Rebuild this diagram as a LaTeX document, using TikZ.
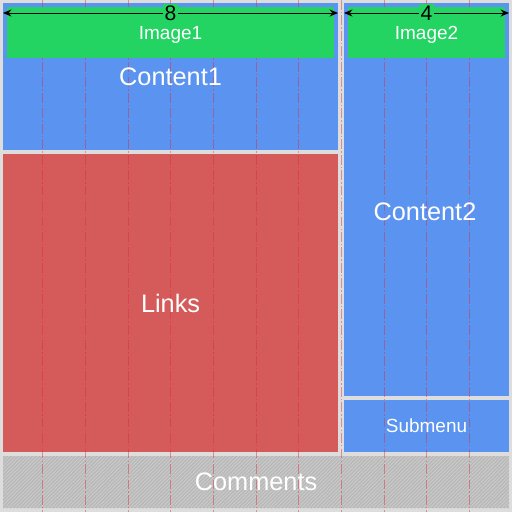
\documentclass[tikz,border=0pt]{standalone}
\usepackage{fontspec}
\setmainfont{Liberation Sans}
\usepackage{tikz}
\usetikzlibrary{positioning, arrows.meta, patterns.meta}
\usepackage{xcolor}

\definecolor{bggray}{HTML}{DDDDDD}
\definecolor{panelblue}{HTML}{5A94F0}
\definecolor{panelgreen}{HTML}{24D463}
\definecolor{panelred}{HTML}{D55B5B}
\definecolor{hatchgray}{HTML}{B9B9B9}
\definecolor{gridred}{HTML}{E0283A}

\begin{document}
\begin{tikzpicture}[
  x=0.025cm, y=-0.025cm,
  every node/.style={text=white},
  panel/.style={rectangle, inner sep=0pt, outer sep=0pt, anchor=north west},
  biglabel/.style={font=\fontsize{18}{20}\selectfont},
  smalllabel/.style={font=\fontsize{13.5}{15}\selectfont},
  gridline/.style={gridred, opacity=0.45, line width=0.6pt,
                   dash pattern=on 7pt off 1.5pt on 1pt off 1.5pt},
  dimline/.style={black, line width=0.7pt, {Stealth[length=6pt,width=5pt]}-{Stealth[length=6pt,width=5pt]}}
]
% background
\fill[bggray] (0,0) rectangle (512,512);
\useasboundingbox (0,0) rectangle (512,512);

% panels
\node[panel, fill=panelblue, minimum width=8.375cm, minimum height=3.675cm] (content1) at (3,3) {};
\node[panel, fill=panelblue, minimum width=4.125cm, minimum height=9.825cm] (content2) at (344,3) {};
\node[panel, fill=panelred, minimum width=8.375cm, minimum height=7.45cm] (links) at (3,154) {};
\node[panel, fill=panelblue, minimum width=4.125cm, minimum height=1.3cm] (submenu) at (344,400) {};
\node[panel, fill=hatchgray, minimum width=12.65cm, minimum height=1.3cm] (comments) at (3,456) {};
\fill[pattern={Lines[angle=45, distance=1.8pt, line width=0.5pt]}, pattern color=hatchgray!70!white]
  (comments.north west) rectangle (comments.south east);

% 12-column grid
\foreach \k in {1,...,11}
  \draw[gridline] (\k*42.667, 0) -- (\k*42.667, 512);

% images
\node[panel, fill=panelgreen, minimum width=8.175cm, minimum height=1.275cm] (image1) at (7,7) {};
\node[panel, fill=panelgreen, minimum width=3.925cm, minimum height=1.275cm] (image2) at (348,7) {};

% labels
\node[smalllabel] at ([yshift=-2pt]image1.center) {Image1};
\node[smalllabel] at ([yshift=-2pt]image2.center) {Image2};
\node[biglabel] at (content1.center) {Content1};
\node[biglabel] (content2label) at (425,212) {Content2};
\node[biglabel] at (links.center) {Links};
\node[smalllabel] at (submenu.center) {Submenu};
\node[biglabel] at (comments.center) {Comments};

% column widths
\coordinate (w8a) at (3,13);
\coordinate (w8b) at (338,13);
\coordinate (w4a) at (344,13);
\coordinate (w4b) at (509,13);
\draw[dimline] (w8a) -- node[fill=panelgreen, text=black, inner sep=1pt, font=\fontsize{15}{16}\selectfont] (cols8) {8} (w8b);
\draw[dimline] (w4a) -- node[fill=panelgreen, text=black, inner sep=1pt, font=\fontsize{15}{16}\selectfont] (cols4) {4} (w4b);

\end{tikzpicture}
\end{document}
